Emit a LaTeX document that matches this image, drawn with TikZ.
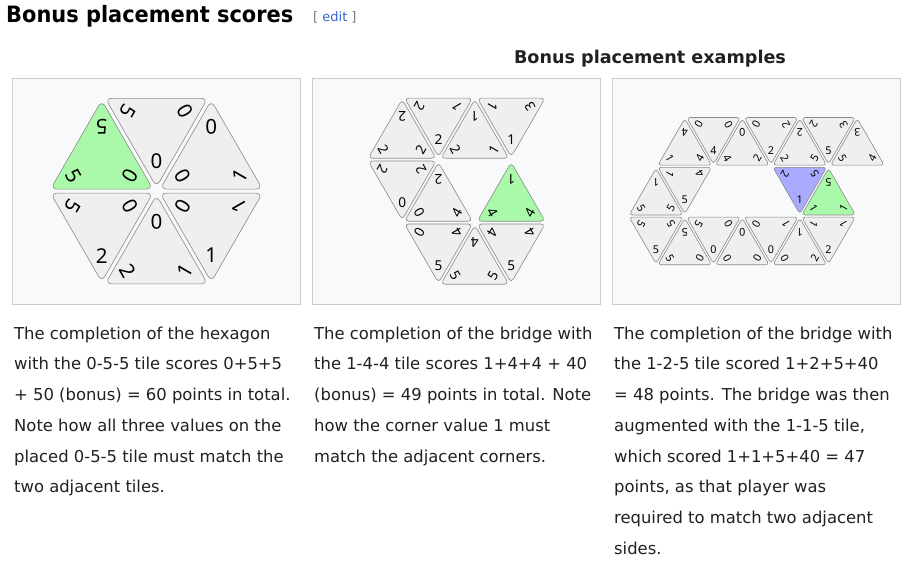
\documentclass[tikz,border=0pt]{standalone}
\usepackage{fontspec}
\setmainfont{DejaVu Sans}
\newfontfamily\digitfont{Noto Sans}
\newfontfamily\headfont[FakeStretch=0.93]{DejaVu Sans Bold}
\usetikzlibrary{calc}
\definecolor{txt}{HTML}{202122}
\definecolor{boxbg}{HTML}{F8F9FA}
\definecolor{boxbd}{HTML}{C8CCD1}
\definecolor{tilebg}{HTML}{EFEFEF}
\definecolor{tilebd}{HTML}{8A8A8A}
\definecolor{tgreen}{HTML}{AAF8AA}
\definecolor{tblue}{HTML}{AAAAFF}
\definecolor{linkblue}{HTML}{3366CC}
\definecolor{bracketgray}{HTML}{72777D}
\newcount\dignum
\def\ts{0.935}
\def\tf{0.48}
\def\dfs{20}
\def\rc{5pt}
\tikzset{
  tile/.style={draw=tilebd, line width=0.6pt, rounded corners=\rc},
  dig/.style={font=\digitfont\fontsize{\dfs}{\dfs}\selectfont, inner sep=0pt, text=black},
  panelbox/.style={draw=boxbd, fill=boxbg, line width=0.8pt},
  caption/.style={anchor=base west, inner sep=0pt, text=txt, font=\fontsize{16.4}{20}\selectfont},
}
% up tile: apex at (i,j), base at row j+1
\newcommand\tup[6]{%
  \filldraw[tile, fill=#3] ({#1},{#2+2/3-\ts*2/3}) -- ({#1-\ts},{#2+2/3+\ts/3}) -- ({#1+\ts},{#2+2/3+\ts/3}) -- cycle;
  \global\advance\dignum by 1
  \node[dig, rotate=180] (d\the\dignum a) at ({#1},{#2+\tf*2/3}) {#4};
  \node[dig, rotate=-60] (d\the\dignum b) at ({#1-1+\tf},{#2+1-\tf/3}) {#5};
  \node[dig, rotate=60] (d\the\dignum c) at ({#1+1-\tf},{#2+1-\tf/3}) {#6};
}
% down tile: top-left corner at (i,j), top-right (i+2,j), bottom (i+1,j+1)
\newcommand\tdown[6]{%
  \filldraw[tile, fill=#3] ({#1+1-\ts},{#2+1/3-\ts/3}) -- ({#1+1+\ts},{#2+1/3-\ts/3}) -- ({#1+1},{#2+1/3+\ts*2/3}) -- cycle;
  \global\advance\dignum by 1
  \node[dig, rotate=-120] (d\the\dignum a) at ({#1+\tf},{#2+\tf/3}) {#4};
  \node[dig, rotate=120] (d\the\dignum b) at ({#1+2-\tf},{#2+\tf/3}) {#5};
  \node[dig, rotate=0] (d\the\dignum c) at ({#1+1},{#2+1-\tf*2/3}) {#6};
}
\begin{document}
\begin{tikzpicture}[x=1pt,y=1pt]
\useasboundingbox (0,0) rectangle (903,561);
\fill[white] (0,0) rectangle (903,561);
% headings
\node[anchor=base west, inner sep=0pt, text=black, font=\headfont\fontsize{22.5}{26}\selectfont] (h1) at (6,538.5) {Bonus placement scores};
\node[anchor=base west, inner sep=0pt, font=\fontsize{13}{15}\selectfont] (edit) at (313,539.5) {\textcolor{bracketgray}{[} \textcolor{linkblue}{edit} \textcolor{bracketgray}{]}};
\node[anchor=base, inner sep=0pt, text=txt, font=\bfseries\fontsize{17.6}{20}\selectfont] (h2) at (650,497) {Bonus placement examples};
% panel boxes
\draw[panelbox] (12.5,483) rectangle (300.5,257);
\draw[panelbox] (312.5,483) rectangle (600.5,257);
\draw[panelbox] (612.5,483) rectangle (900.5,257);
% panel 1: hexagon
\def\dfs{20.5}\def\rc{6.5pt}
\begin{scope}[shift={(47,464.7)}, x=54.75pt, y=-94.83pt]
\tup{1}{0}{tgreen}{5}{5}{0}
\tdown{1}{0}{tilebg}{5}{0}{0}
\tup{3}{0}{tilebg}{0}{0}{1}
\tdown{0}{1}{tilebg}{5}{0}{2}
\tup{2}{1}{tilebg}{0}{2}{1}
\tdown{2}{1}{tilebg}{0}{1}{1}
\end{scope}
% panel 2
\def\dfs{13.6}\def\rc{4.3pt}
\begin{scope}[shift={(365.8,464.3)}, x=36.35pt, y=-62.96pt]
\tup{1}{0}{tilebg}{2}{2}{2}
\tdown{1}{0}{tilebg}{2}{1}{2}
\tup{3}{0}{tilebg}{1}{2}{1}
\tdown{3}{0}{tilebg}{1}{3}{1}
\tdown{0}{1}{tilebg}{2}{2}{0}
\tup{2}{1}{tilebg}{2}{0}{4}
\tup{4}{1}{tgreen}{1}{4}{4}
\tdown{1}{2}{tilebg}{0}{4}{5}
\tup{3}{2}{tilebg}{4}{5}{5}
\tdown{3}{2}{tilebg}{4}{4}{5}
\end{scope}
% panel 3
\def\dfs{10.75}\def\rc{3.4pt}
\begin{scope}[shift={(627.3,444.55)}, x=28.75pt, y=-49.8pt]
\tup{2}{0}{tilebg}{4}{1}{4}
\tdown{2}{0}{tilebg}{0}{0}{4}
\tup{4}{0}{tilebg}{0}{4}{2}
\tdown{4}{0}{tilebg}{0}{2}{2}
\tup{6}{0}{tilebg}{2}{2}{5}
\tdown{6}{0}{tilebg}{2}{3}{5}
\tup{8}{0}{tilebg}{3}{5}{4}
\tup{1}{1}{tilebg}{1}{5}{5}
\tdown{1}{1}{tilebg}{1}{4}{5}
\tdown{5}{1}{tblue}{2}{5}{1}
\tup{7}{1}{tgreen}{5}{1}{1}
\tdown{0}{2}{tilebg}{5}{5}{5}
\tup{2}{2}{tilebg}{5}{5}{0}
\tdown{2}{2}{tilebg}{5}{0}{0}
\tup{4}{2}{tilebg}{0}{0}{0}
\tdown{4}{2}{tilebg}{0}{1}{0}
\tup{6}{2}{tilebg}{1}{0}{2}
\tdown{6}{2}{tilebg}{1}{1}{2}
\end{scope}
% captions
\node[caption] (c11) at (14,221.7) {The completion of the hexagon};
\node[caption] (c12) at (14,191.0) {with the 0-5-5 tile scores 0+5+5};
\node[caption] (c13) at (14,160.3) {+ 50 (bonus) = 60 points in total.};
\node[caption] (c14) at (14,129.6) {Note how all three values on the};
\node[caption] (c15) at (14,98.9) {placed 0-5-5 tile must match the};
\node[caption] (c16) at (14,68.2) {two adjacent tiles.};
\node[caption] (c21) at (314,221.7) {The completion of the bridge with};
\node[caption] (c22) at (314,191.0) {the 1-4-4 tile scores 1+4+4 + 40};
\node[caption] (c23) at (314,160.3) {(bonus) = 49 points in total. Note};
\node[caption] (c24) at (314,129.6) {how the corner value 1 must};
\node[caption] (c25) at (314,98.9) {match the adjacent corners.};
\node[caption] (c31) at (614,221.7) {The completion of the bridge with};
\node[caption] (c32) at (614,191.0) {the 1-2-5 tile scored 1+2+5+40};
\node[caption] (c33) at (614,160.3) {= 48 points. The bridge was then};
\node[caption] (c34) at (614,129.6) {augmented with the 1-1-5 tile,};
\node[caption] (c35) at (614,98.9) {which scored 1+1+5+40 = 47};
\node[caption] (c36) at (614,68.2) {points, as that player was};
\node[caption] (c37) at (614,37.5) {required to match two adjacent};
\node[caption] (c38) at (614,6.8) {sides.};
\end{tikzpicture}
\end{document}
